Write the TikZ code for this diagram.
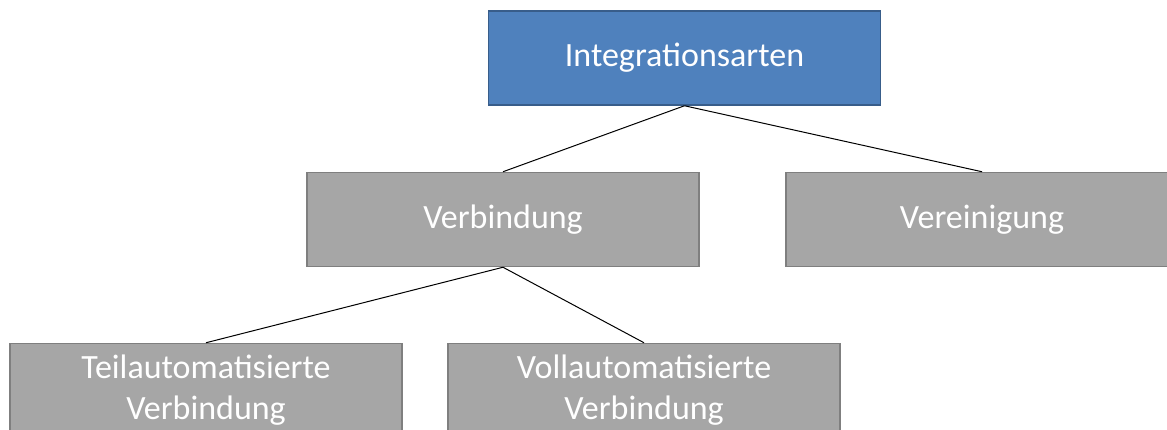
\documentclass[tikz,border=0pt]{standalone}
\usepackage{fontspec}
\setmainfont{Carlito}
\definecolor{bluefill}{HTML}{4F81BD}
\definecolor{blueline}{HTML}{385D8A}
\definecolor{grayfill}{HTML}{A6A6A6}
\definecolor{grayline}{HTML}{7F7F7F}
\begin{document}
\begin{tikzpicture}[x=1pt,y=-1pt,
  boxbase/.style={draw, line width=1.5pt, minimum width=392pt, minimum height=94pt,
    inner sep=0pt, text=white, align=center, font=\fontsize{34}{41}\selectfont},
  bluebox/.style={boxbase, fill=bluefill, draw=blueline},
  graybox/.style={boxbase, fill=grayfill, draw=grayline},
  conn/.style={draw=black, line width=1pt}]
\useasboundingbox (0,0) rectangle (1167,430);
\clip (0,0) rectangle (1167,430);
\node[bluebox] (top) at (684.5,58) {Integrationsarten};
\node[graybox] (verb) at (503,219.5) {Verbindung};
\node[graybox] (vere) at (982,219.5) {Vereinigung};
\node[graybox] (teil) at (206,390.5) {Teilautomatisierte\\Verbindung};
\node[graybox] (voll) at (644,390.5) {Vollautomatisierte\\Verbindung};
\draw[conn] (top.south) -- (verb.north);
\draw[conn] (top.south) -- (vere.north);
\draw[conn] (verb.south) -- (teil.north);
\draw[conn] (verb.south) -- (voll.north);
\end{tikzpicture}
\end{document}
